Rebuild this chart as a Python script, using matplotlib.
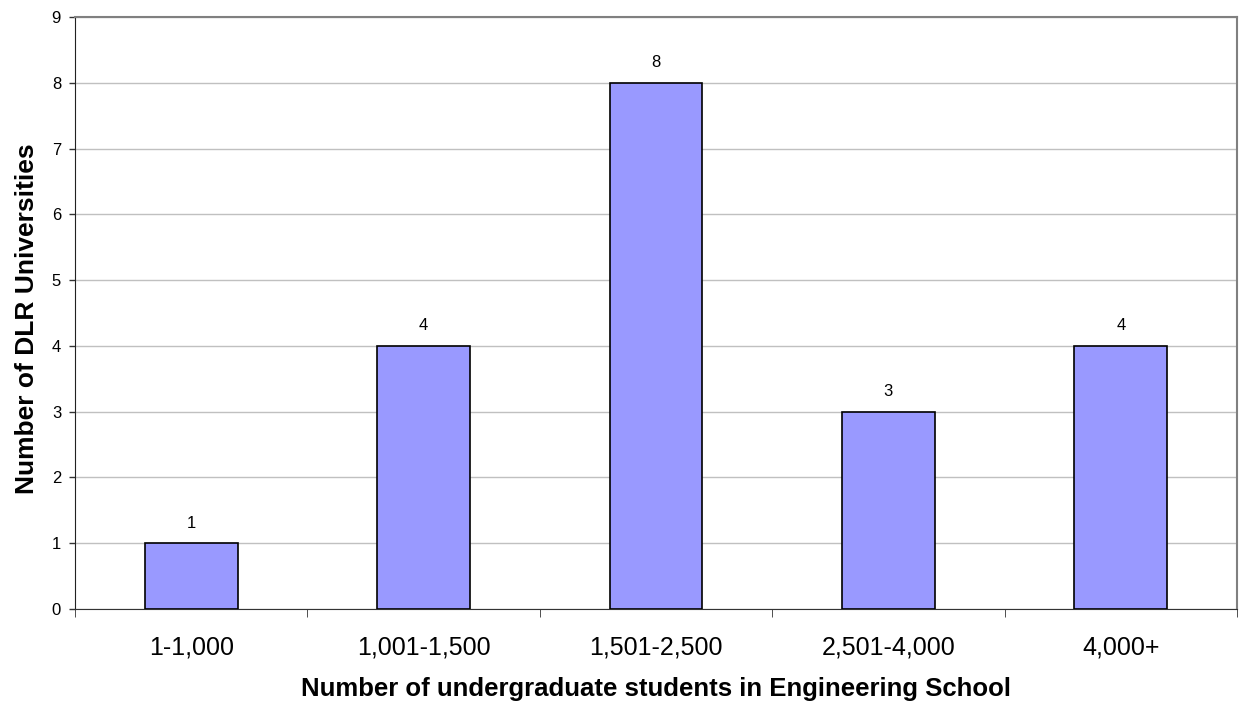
import matplotlib
matplotlib.use("Agg")
import matplotlib.pyplot as plt
import numpy as np

categories = ["1-1,000", "1,001-1,500", "1,501-2,500", "2,501-4,000", "4,000+"]
values = [1, 4, 8, 3, 4]
yticks = list(range(0, 10))

plt.rcParams['font.family'] = ['Liberation Sans', 'DejaVu Sans']

fig = plt.figure(figsize=(12.39, 7.06), dpi=100)
ax = fig.add_axes([75/1239, 97/706, (1237-75)/1239, (609-17)/706])

x = np.arange(len(categories))
ax.bar(x, values, width=0.4, color="#9999FF", edgecolor="black", linewidth=1.2, zorder=3)
for xi, v in zip(x, values):
    ax.annotate(str(v), (xi, v), xytext=(0, 9), textcoords="offset points",
                ha="center", va="bottom", fontsize=12)

ax.set_xlim(-0.5, len(categories) - 0.5)
ax.set_ylim(0, 9)
ax.set_yticks(yticks)
ax.yaxis.grid(True, color="#c0c0c0", linewidth=1, zorder=0)
ax.tick_params(axis="y", labelsize=12, length=4, width=1, pad=6, direction="out", color="#333333")

ax.set_xticks(x)
ax.set_xticklabels(categories, fontsize=18)
ax.tick_params(axis="x", length=0, pad=19)
ax.set_xticks(np.arange(-0.5, len(categories)), minor=True)
ax.tick_params(axis="x", which="minor", length=6, direction="out", color="#333333")

for s in ["top", "right"]:
    ax.spines[s].set_color("#808080")
    ax.spines[s].set_linewidth(1.5)
ax.spines["left"].set_color("#222222")
ax.spines["bottom"].set_color("#333333")

ax.set_xlabel("Number of undergraduate students in Engineering School", fontsize=18.5, fontweight="bold", labelpad=13)
ax.set_ylabel("Number of DLR Universities", fontsize=19, fontweight="bold", labelpad=9)
ax.yaxis.label.set_y(0.49)

fig.savefig("out.png", dpi=100)
